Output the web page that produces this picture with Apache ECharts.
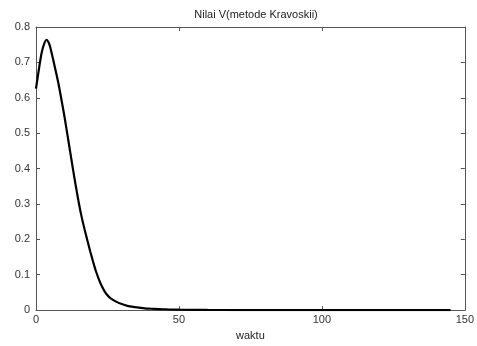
<!DOCTYPE html>
<html><head><meta charset="utf-8">
<script src="https://cdn.jsdelivr.net/npm/echarts@6/dist/echarts.min.js"></script>
<style>html,body{margin:0;padding:0;background:#fff}#c{width:477px;height:346px}</style>
</head><body><div id="c"></div>
<script>
var waktu = [0,1,2,3,3.7,4.5,5,6,7,8,9,10,11,12,13,14,15,16,17,18,19,20,21,22,23,24,25,26,28,30,32,34,36,38,40,43,46,50,60,70,80,90,100,110,120,130,145];
var nilaiV = [0.626,0.68,0.728,0.756,0.764,0.755,0.742,0.708,0.672,0.634,0.59,0.545,0.495,0.445,0.395,0.347,0.302,0.262,0.228,0.196,0.165,0.136,0.109,0.087,0.068,0.053,0.042,0.034,0.024,0.017,0.012,0.009,0.007,0.005,0.004,0.003,0.002,0.0012,0.0005,0.0002,0.0001,0,0,0,0,0,0];
var xTicks = [0,50,100,150];
var yTicks = [0,0.1,0.2,0.3,0.4,0.5,0.6,0.7,0.8];
var pts = waktu.map(function(t,i){return [t,nilaiV[i]];});
var font = 'Liberation Sans, Arial, sans-serif';
var axLine = {show:true,onZero:false,lineStyle:{color:'#555',width:1}};
var tick = {show:true,inside:true,length:4,lineStyle:{color:'#555'}};
var chart = echarts.init(document.getElementById('c'));
chart.setOption({
  backgroundColor:'#fff',
  animation:false,
  title:{text:'Nilai V(metode Kravoskii)',left:251,top:4,textAlign:'center',textStyle:{fontSize:11,fontWeight:'normal',color:'#222',fontFamily:font}},
  grid:{left:36,right:11,top:27,bottom:28},
  xAxis:[
    {type:'value',min:0,max:150,interval:50,name:'waktu',nameLocation:'middle',nameGap:16,
     nameTextStyle:{fontSize:11,color:'#222',fontFamily:font},
     axisLine:axLine,axisTick:tick,
     axisLabel:{fontSize:11,color:'#333',fontFamily:font,margin:4},splitLine:{show:false}},
    {type:'value',min:0,max:150,interval:50,position:'top',
     axisLine:axLine,axisTick:tick,
     axisLabel:{show:false},splitLine:{show:false}}
  ],
  yAxis:[
    {type:'value',min:0,max:0.8,interval:0.1,
     axisLine:axLine,axisTick:tick,
     axisLabel:{fontSize:11,color:'#333',fontFamily:font,margin:6,formatter:function(v){return +v.toFixed(1)+'';}},splitLine:{show:false}},
    {type:'value',min:0,max:0.8,interval:0.1,position:'right',
     axisLine:axLine,axisTick:tick,
     axisLabel:{show:false},splitLine:{show:false}}
  ],
  series:[{type:'line',data:pts,smooth:0.3,showSymbol:false,lineStyle:{color:'#000',width:2.2}}]
});
</script></body></html>
